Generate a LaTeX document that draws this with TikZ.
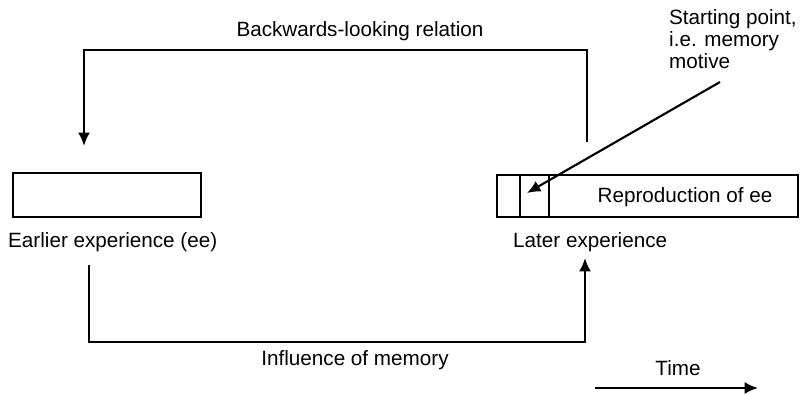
\documentclass[tikz,border=0pt]{standalone}
\usepackage{fontspec}
\setmainfont{Liberation Sans}
\usetikzlibrary{arrows.meta}
\begin{document}
\begin{tikzpicture}[x=0.75pt,y=-0.75pt,
  line width=1.8pt,
  box/.style={draw,rectangle,inner sep=0pt},
  lbl/.style={inner sep=0pt,font=\fontsize{15.5}{18.5}\selectfont},
  conn/.style={-{Latex[length=10pt,width=9pt]},line join=miter}]
  \useasboundingbox (0,0) rectangle (802,395);

  % experience boxes
  \node[box,minimum width=141pt,minimum height=33pt] (ee) at (107,195) {};
  \node[box,minimum width=225.75pt,minimum height=31.5pt] (le) at (647.5,196) {};
  \draw (520,175) -- (520,217);
  \draw (549,175) -- (549,217);
  \node[lbl] (repro) at (685,197) {Reproduction of ee};

  % labels
  \node[lbl,anchor=west] (eelbl) at (7,242) {Earlier experience (ee)};
  \node[lbl,anchor=west] (lelbl) at (512,242) {Later experience};
  \node[lbl] (back) at (360,31) {Backwards-looking relation};
  \node[lbl] (infl) at (355,360) {Influence of memory};
  \node[lbl] (time) at (678,368) {Time};
  \node[lbl,anchor=north west,align=left,font=\fontsize{15.5}{16.5}\selectfont] (start) at (668,8)
    {Starting point,\\i.e. memory\\motive};

  % connector ends
  \coordinate (backstart) at (587,142);
  \coordinate (backend) at (84,146);
  \coordinate (inflstart) at (89,265);
  \coordinate (inflend) at (585,258);
  \coordinate (motive) at (720,82);
  \coordinate (motivetip) at (527,193);
  \coordinate (t0) at (595,388);
  \coordinate (t1) at (758,388);

  % connectors
  \draw[conn] (backstart) -- (587,50) -- (84,50) -- (backend);
  \draw[conn] (inflstart) -- (89,342) -- (585,342) -- (inflend);
  \draw[conn,line width=1.6pt] (motive) -- (motivetip);
  \draw[conn] (t0) -- (t1);
\end{tikzpicture}
\end{document}
